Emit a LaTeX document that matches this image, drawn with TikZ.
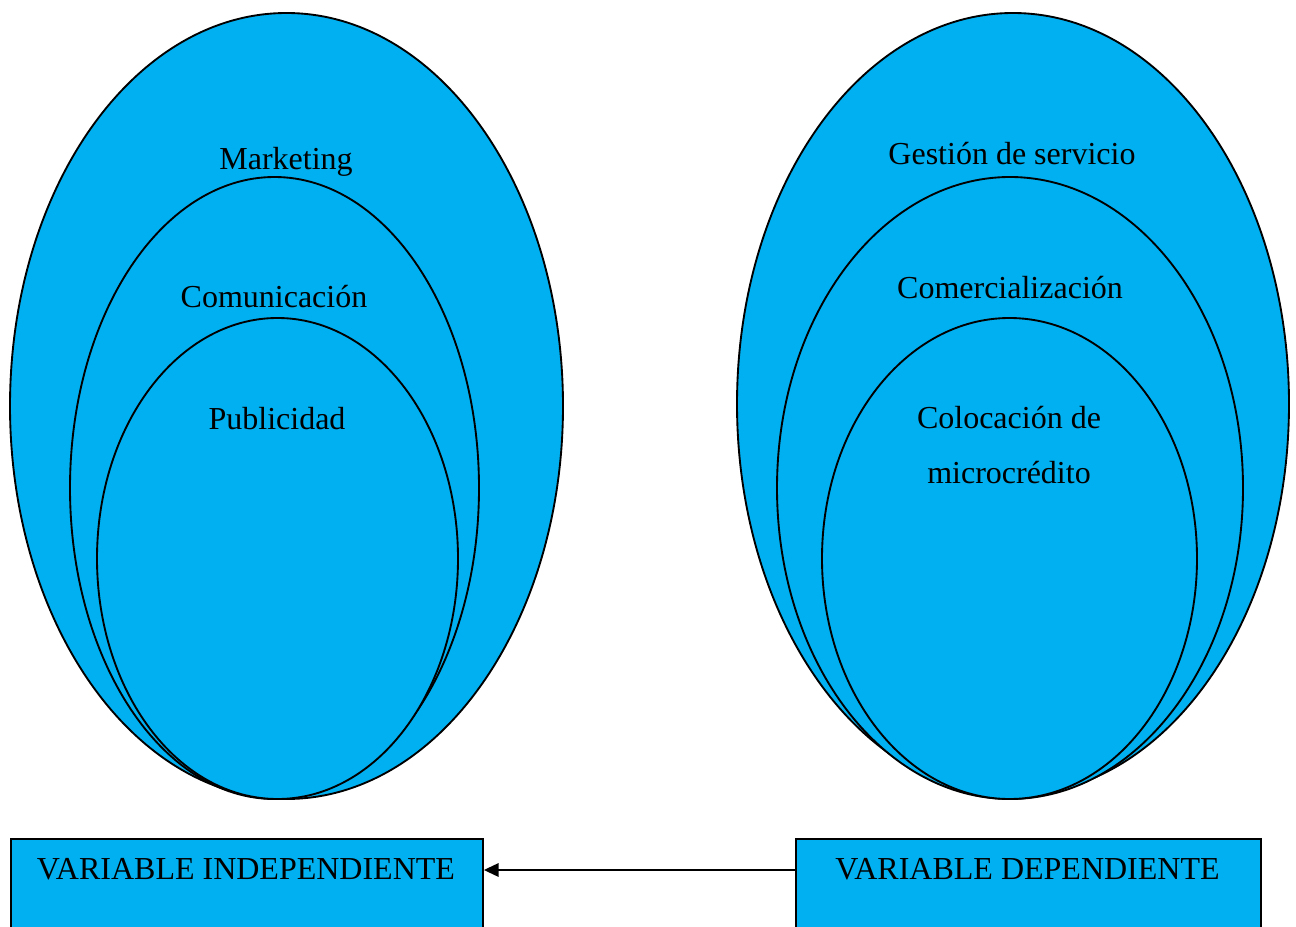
\documentclass[tikz,border=0pt]{standalone}
\usepackage{fontspec}
\setmainfont{Liberation Serif}
\usetikzlibrary{arrows.meta}
\definecolor{skyfill}{HTML}{00B0F0}
\tikzset{
  ell/.style={fill=skyfill, draw=black, line width=1.4pt},
  lbl/.style={anchor=base, inner sep=0pt, font=\fontsize{24}{28}\selectfont},
  varbox/.style={fill=skyfill, draw=black, line width=1.4pt, rectangle, inner sep=0pt, anchor=north west},
  link/.style={line width=1.5pt, -{Triangle[length=11pt,width=10pt]}}
}
\begin{document}
\begin{tikzpicture}[x=0.75pt,y=-0.75pt]
\useasboundingbox (0,0) rectangle (1296,927);
\clip (0,0) rectangle (1296,927);
% left group
\path[ell] (286.5,406) ellipse [x radius=276.5, y radius=393];
\path[ell] (274.5,488) ellipse [x radius=204.5, y radius=311];
\path[ell] (277.5,558.5) ellipse [x radius=180.5, y radius=240.5];
\node[lbl] (mkt) at (286,170) {Marketing};
\node[lbl] (com) at (274,308) {Comunicación};
\node[lbl] (pub) at (277,429) {Publicidad};
% right group
\path[ell] (1013,404) ellipse [x radius=276, y radius=391];
\path[ell] (1010,488) ellipse [x radius=233, y radius=311];
\path[ell] (1009.5,558.5) ellipse [x radius=187.5, y radius=240.5];
\node[lbl] (ges) at (1012,165) {Gestión de servicio};
\node[lbl] (come) at (1010,299) {Comercialización};
\node[lbl] (col1) at (1009,428) {Colocación de};
\node[lbl] (col2) at (1009,483) {microcrédito};
% boxes
\node[varbox, minimum width=354pt, minimum height=90pt] (indep) at (10,838) {};
\node[varbox, minimum width=348.75pt, minimum height=90pt] (dep) at (795,838) {};
\node[lbl] (indept) at (246,879) {VARIABLE INDEPENDIENTE};
\node[lbl] (dept) at (1027.5,879) {VARIABLE DEPENDIENTE};
\coordinate (arry) at (0,870);
\draw[link] (dep.west |- arry) -- (indep.east |- arry);
\end{tikzpicture}
\end{document}
